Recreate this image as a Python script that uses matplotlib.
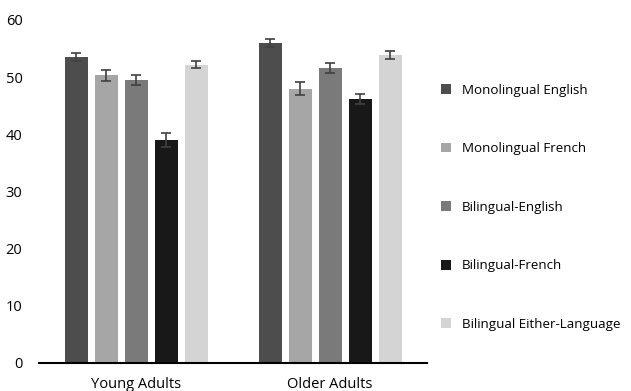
import numpy as np
import matplotlib.pyplot as plt
from matplotlib.patches import Patch

plt.rcParams['font.family'] = ['Open Sans', 'DejaVu Sans']

groups = ['Young Adults', 'Older Adults']
series = ['Monolingual English', 'Monolingual French', 'Bilingual-English',
          'Bilingual-French', 'Bilingual Either-Language']
young = [53.6, 50.3, 49.5, 39.0, 52.2]
older = [55.9, 48.0, 51.6, 46.2, 53.9]
young_err = [0.7, 0.9, 0.9, 1.3, 0.6]
older_err = [0.7, 1.2, 0.9, 0.9, 0.7]
colors = ['#4d4d4d', '#a6a6a6', '#7a7a7a', '#181818', '#d4d4d4']

fig = plt.figure(figsize=(6.31, 3.91), dpi=100)
ax = fig.add_axes([0.062, 0.072, 0.615, 0.877])

x = np.arange(len(groups))
step = 0.1546
width = 0.1186
for i, name in enumerate(series):
    vals = [young[i], older[i]]
    errs = [young_err[i], older_err[i]]
    ax.bar(x + (i - 2) * step, vals, width, color=colors[i], label=name,
           yerr=errs, capsize=3.6,
           error_kw=dict(ecolor='#404040', elinewidth=1.2, capthick=1.2))

ax.set_xlim(-0.5, 1.5)
ax.set_ylim(0, 60)
ax.set_yticks(range(0, 61, 10))
ax.set_xticks(x)
ax.set_xticklabels(groups)
ax.tick_params(axis='both', length=0, labelsize=10.5, colors='black')
ax.tick_params(axis='x', pad=10)
ax.tick_params(axis='y', pad=12)
for side in ['top', 'right', 'left']:
    ax.spines[side].set_visible(False)
ax.spines['bottom'].set_linewidth(1.5)

handles = [Patch(facecolor=c, label=s) for c, s in zip(colors, series)]
fig.legend(handles=handles, loc='center left', bbox_to_anchor=(0.68, 0.47),
           frameon=False, fontsize=9.6, handlelength=0.75, handleheight=0.75,
           handletextpad=0.8, labelspacing=3.42)

plt.savefig('out.png', dpi=100)
